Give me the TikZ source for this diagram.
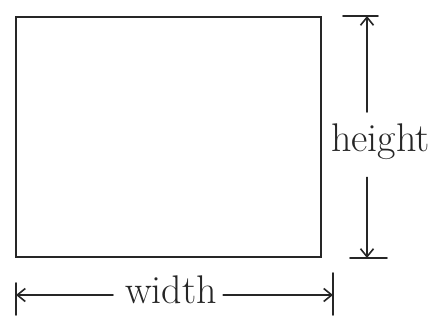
\documentclass[tikz,border=0pt]{standalone}
\usetikzlibrary{arrows.meta}
\begin{document}
\begin{tikzpicture}[x=1pt,y=-1pt,
  ink/.style={draw=black!85,line width=1.6pt,line cap=round},
  dimarrow/.style={ink,-{Straight Barb[length=8pt,width=13pt]}},
  lbl/.style={font=\fontsize{40}{40}\selectfont,text=black!85,inner sep=1pt}]
\useasboundingbox (0,0) rectangle (446,320);
\node[ink,anchor=north west,minimum width=305pt,minimum height=240pt,inner sep=0pt,outer sep=0pt] (box) at (16,17) {};
% height dimension
\coordinate (htop) at (367,16);
\coordinate (hbot) at (367,258);
\node[lbl,anchor=base west] (hlab) at (330,152) {height};
\draw[ink] ([xshift=-24pt]htop) -- ([xshift=11pt]htop);
\draw[ink] ([xshift=-17pt]hbot) -- ([xshift=20pt]hbot);
\draw[dimarrow] ([yshift=11pt]hlab.north -| htop) -- (htop);
\draw[dimarrow] ([yshift=-16pt]hlab.south -| hbot) -- (hbot);
% width dimension
\coordinate (wl) at (16,295);
\coordinate (wr) at (333,295);
\node[lbl,anchor=base west] (wlab) at (124,303) {width};
\draw[ink] ([yshift=12pt]wl) -- ([yshift=-20pt]wl);
\draw[ink] ([yshift=22pt]wr) -- ([yshift=-20pt]wr);
\draw[dimarrow] ([xshift=-11pt]wlab.west |- wl) -- (wl);
\draw[dimarrow] ([xshift=5pt]wlab.east |- wr) -- (wr);
\end{tikzpicture}
\end{document}
